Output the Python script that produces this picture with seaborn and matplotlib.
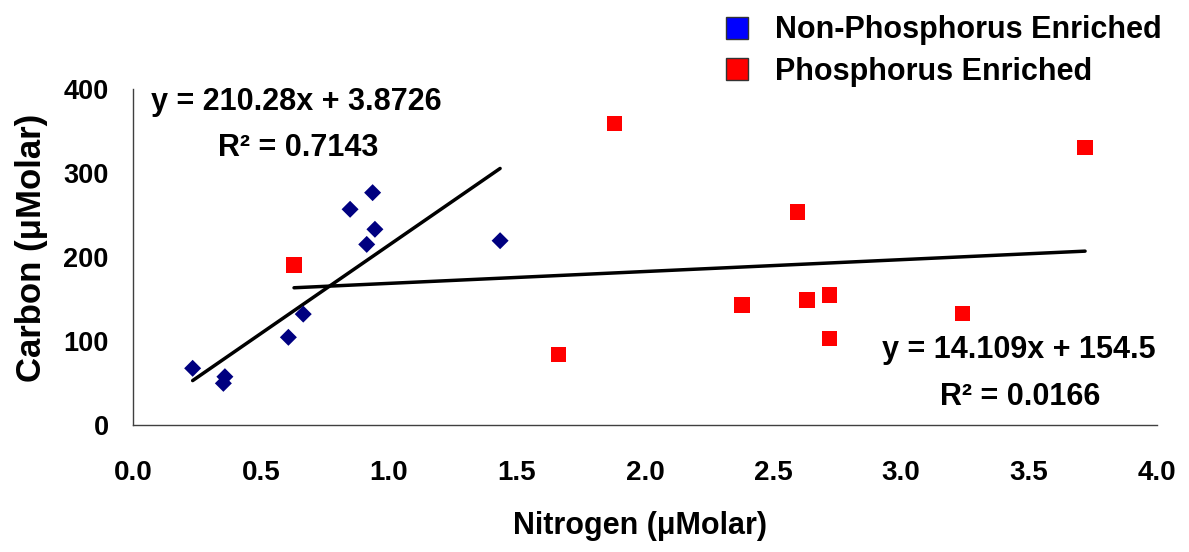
import numpy as np
import pandas as pd
import matplotlib
matplotlib.use("Agg")
import matplotlib.pyplot as plt
from matplotlib.lines import Line2D
import seaborn as sns

# Données (µMolar)
non_p_nitrogen = [0.233, 0.359, 0.353, 0.607, 0.665, 0.913, 0.945, 0.848, 0.936, 1.434]
non_p_carbon = [67.5, 57.5, 49.6, 104.4, 132.0, 215.0, 233.0, 256.8, 276.6, 219.4]

p_nitrogen = [0.629, 1.663, 1.880, 2.378, 2.596, 2.632, 2.720, 2.720, 3.240, 3.719]
p_carbon = [190.5, 84.2, 358.7, 142.9, 253.6, 148.8, 154.8, 103.2, 133.0, 330.6]

groups = ["Non-Phosphorus Enriched", "Phosphorus Enriched"]
# Droites de tendance (pente, ordonnée à l'origine)
slopes = [210.28, 14.109]
intercepts = [3.8726, 154.5]
eq_labels = ["y = 210.28x + 3.8726", "y = 14.109x + 154.5"]
r2_labels = ["R\u00b2 = 0.7143", "R\u00b2 = 0.0166"]

x_ticks = [0.0, 0.5, 1.0, 1.5, 2.0, 2.5, 3.0, 3.5, 4.0]
y_ticks = [0, 100, 200, 300, 400]

df = pd.DataFrame({
    "Nitrogen": non_p_nitrogen + p_nitrogen,
    "Carbon": non_p_carbon + p_carbon,
    "Group": [groups[0]] * len(non_p_nitrogen) + [groups[1]] * len(p_nitrogen),
})

sns.set_style("white")
plt.rcParams["font.family"] = ["Liberation Sans", "DejaVu Sans"]
plt.rcParams["font.weight"] = "bold"
plt.rcParams["text.color"] = "black"
plt.rcParams["axes.labelcolor"] = "black"
plt.rcParams["xtick.color"] = "black"
plt.rcParams["ytick.color"] = "black"

fig = plt.figure(figsize=(11.89, 5.52), dpi=100)
ax = fig.add_axes([133 / 1189, 1 - 425 / 552, (1157 - 133) / 1189, (425 - 89) / 552])

# Points : losanges bleu marine / carrés rouges
sub = df[df["Group"] == groups[0]]
sns.scatterplot(data=sub, x="Nitrogen", y="Carbon", marker="D", s=75,
                color="#000080", edgecolor="none", ax=ax, legend=False, zorder=3)
sub = df[df["Group"] == groups[1]]
sns.scatterplot(data=sub, x="Nitrogen", y="Carbon", marker="s", s=125,
                color="#FF0000", edgecolor="none", ax=ax, legend=False, zorder=3)

# Droites de tendance sur l'étendue des données
for xs, m, b in [(non_p_nitrogen, slopes[0], intercepts[0]),
                 (p_nitrogen, slopes[1], intercepts[1])]:
    xx = np.array([min(xs), max(xs)])
    ax.plot(xx, m * xx + b, color="black", lw=2.5, zorder=2)

ax.set_xlim(0, 4)
ax.set_ylim(0, 400)
ax.set_xticks(x_ticks)
ax.set_xticklabels([f"{t:.1f}" for t in x_ticks])
ax.set_yticks(y_ticks)
ax.tick_params(axis="both", which="major", direction="out", length=6.5, width=1,
               color="#404040")
ax.tick_params(axis="x", pad=19, labelsize=20)
ax.tick_params(axis="y", pad=11, labelsize=19.5)
for lab in ax.get_xticklabels() + ax.get_yticklabels():
    lab.set_fontweight("bold")
for side in ["top", "right"]:
    ax.spines[side].set_visible(False)
for side in ["left", "bottom"]:
    ax.spines[side].set_color("#404040")
    ax.spines[side].set_linewidth(1)

ax.set_xlabel("Nitrogen (\u03bcMolar)", fontsize=22, fontweight="bold")
ax.set_ylabel("Carbon (\u03bcMolar)", fontsize=25, fontweight="bold")
ax.xaxis.set_label_coords(0.495, (425 - 511) / 336)
ax.yaxis.set_label_coords((48 - 133) / 1024, (425 - 248) / 336)

# Équations
ax.text(0.637, 384, eq_labels[0], fontsize=22, fontweight="bold", ha="center", va="center")
ax.text(0.645, 330, r2_labels[0], fontsize=22, fontweight="bold", ha="center", va="center")
ax.text(3.995, 89, eq_labels[1], fontsize=22, fontweight="bold", ha="right", va="center")
ax.text(3.465, 33, r2_labels[1], fontsize=22, fontweight="bold", ha="center", va="center")

# Légende
handles = [Line2D([], [], marker="s", ls="none", markersize=15.5, markerfacecolor=c,
                  markeredgecolor="#333333", markeredgewidth=1)
           for c in ["#0000FF", "#FF0000"]]
fig.legend(handles, groups, loc="upper left", bbox_to_anchor=(699 / 1189, 1.0),
           frameon=False, prop={"size": 22, "weight": "bold"}, handletextpad=0.5,
           labelspacing=0.38, borderaxespad=0.1, handlelength=1.5)

fig.savefig("out.png", dpi=100)
